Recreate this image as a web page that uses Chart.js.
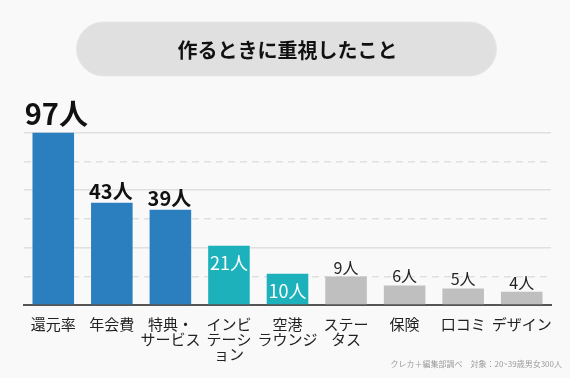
<!DOCTYPE html>
<html lang="ja">
<head>
<meta charset="utf-8">
<script src="https://cdn.jsdelivr.net/npm/chart.js@4"></script>
<style>
  html, body { margin: 0; padding: 0; background: #f9f9f9; }
  #wrap { width: 570px; height: 378px; }
</style>
</head>
<body>
<div id="wrap"><canvas id="c" width="570" height="378"></canvas></div>
<script>
// ---- data ----
const categories = [
  '還元率', '年会費', ['特典・', 'サービス'], ['インビ', 'テーシ', 'ョン'],
  ['空港', 'ラウンジ'], ['ステー', 'タス'], '保険', '口コミ', 'デザイン'
];
const counts = [97, 43, 39, 21, 10, 9, 6, 5, 4];
const unit = '人';
const chartTitle = '作るときに重視したこと';
const sourceNote = 'クレカ＋編集部調べ　対象：20~39歳男女300人';

const FONT = "'Noto Sans CJK JP', 'Noto Sans', sans-serif";
const BLUE = '#2c7fbf', TEAL = '#1cb1bb', GRAY = '#bfbfbf';
const barColor = i => i < 3 ? BLUE : (i < 5 ? TEAL : GRAY);

// Compressed value scale (the infographic uses non-proportional bar lengths)
class KneeScale extends Chart.LinearScale {
  _t(v) {
    const k = this.options.knee || 40;
    return Math.log1p(Math.max(v, 0) / k) / Math.log1p(this.max / k);
  }
  getPixelForValue(v) {
    return (v == null || isNaN(v)) ? NaN : this.getPixelForDecimal(this._t(v));
  }
  getValueForPixel(p) {
    const k = this.options.knee || 40;
    return k * Math.expm1(this.getDecimalForPixel(p) * Math.log1p(this.max / k));
  }
}
KneeScale.id = 'knee';
KneeScale.defaults = Chart.LinearScale.defaults;
Chart.register(KneeScale);

const bgPlugin = {
  id: 'bg',
  beforeDraw(chart) {
    const ctx = chart.ctx;
    ctx.save();
    ctx.fillStyle = '#f9f9f9';
    ctx.fillRect(0, 0, chart.width, chart.height);
    // title pill
    const cx = chart.width / 2 + 1.5, w = 420, h = 54, top = 22;
    ctx.beginPath();
    ctx.roundRect(cx - w / 2, top, w, h, h / 2);
    ctx.fillStyle = '#e0e0e0';
    ctx.fill();
    ctx.strokeStyle = '#e7e7e7';
    ctx.lineWidth = 1;
    ctx.stroke();
    ctx.restore();
  },
  afterDraw(chart) {
    const ctx = chart.ctx;
    ctx.save();
    ctx.font = '8px ' + FONT;
    ctx.fillStyle = '#9a9a9a';
    ctx.textAlign = 'right';
    ctx.textBaseline = 'middle';
    ctx.fillText(sourceNote, 562, 364);
    ctx.restore();
  }
};

const valueLabels = {
  id: 'valueLabels',
  afterDatasetsDraw(chart) {
    const ctx = chart.ctx;
    const meta = chart.getDatasetMeta(0);
    ctx.save();
    ctx.textAlign = 'center';
    meta.data.forEach((bar, i) => {
      const txt = counts[i] + unit;
      if (i === 0) {
        ctx.font = 'bold 29px ' + FONT; ctx.fillStyle = '#111';
        ctx.textBaseline = 'alphabetic';
        ctx.fillText(txt, bar.x + 3, bar.y - 8);
      } else if (i < 3) {
        ctx.font = 'bold 20px ' + FONT; ctx.fillStyle = '#111';
        ctx.textBaseline = 'alphabetic';
        ctx.fillText(txt, bar.x - 1, bar.y - 4);
      } else if (i < 5) {
        ctx.font = '18px ' + FONT; ctx.fillStyle = '#ffffff';
        ctx.textBaseline = 'middle';
        ctx.fillText(txt, bar.x, bar.y + 17);
      } else {
        ctx.font = '16px ' + FONT; ctx.fillStyle = '#222';
        ctx.textBaseline = 'alphabetic';
        ctx.fillText(txt, bar.x, bar.y - 3);
      }
    });
    ctx.restore();
  }
};

new Chart(document.getElementById('c'), {
  type: 'bar',
  data: {
    labels: categories,
    datasets: [{
      data: counts,
      backgroundColor: ctx => barColor(ctx.dataIndex),
      borderWidth: 0,
      barPercentage: 0.71,
      categoryPercentage: 1.0
    }]
  },
  options: {
    responsive: false,
    animation: false,
    devicePixelRatio: 1,
    layout: { padding: { left: 24, right: 19, top: 0, bottom: 0 } },
    plugins: {
      legend: { display: false },
      tooltip: { enabled: false },
      title: {
        display: true,
        text: chartTitle,
        color: '#111',
        font: { family: FONT, size: 20, weight: 'bold', lineHeight: 1.2 },
        padding: { top: 38, bottom: 70.5 }
      }
    },
    scales: {
      x: {
        grid: { display: false, drawTicks: false },
        border: { display: true, color: '#555', width: 2 },
        ticks: {
          color: '#222',
          font: { family: FONT, size: 15, lineHeight: 1.0 },
          padding: 12,
          maxRotation: 0,
          autoSkip: false
        },
        afterFit: s => { s.height = 73; }
      },
      y: {
        type: 'knee',
        knee: 40,
        min: 0,
        max: 97,
        ticks: { display: false },
        grid: {
          drawTicks: false,
          color: ctx => ctx.index === 0 ? 'rgba(0,0,0,0)' : '#e0e0e0',
          lineWidth: 1.5
        },
        border: { display: false, dash: ctx => (ctx.index % 2 === 1 ? [7, 5] : []) },
        afterBuildTicks: s => {
          const k = s.options.knee, L = Math.log1p(s.max / k);
          const t = [];
          for (let i = 0; i <= 6; i++) t.push({ value: k * Math.expm1(i / 6 * L) });
          s.ticks = t;
        },
        afterFit: s => { s.width = 0; }
      }
    }
  },
  plugins: [bgPlugin, valueLabels]
});
</script>
</body>
</html>
